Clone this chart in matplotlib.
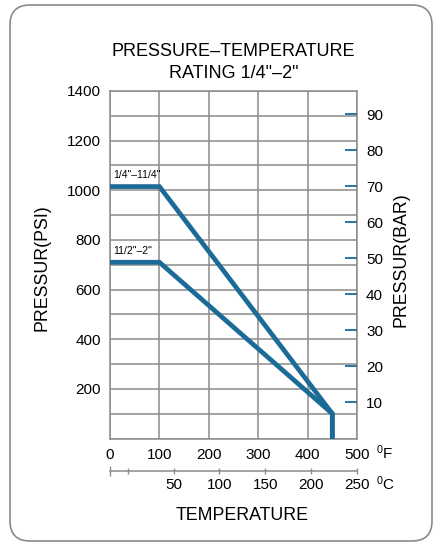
import matplotlib
matplotlib.use("Agg")
import matplotlib.pyplot as plt
from matplotlib.patches import FancyBboxPatch

# ---- data ----
temp_f = [0, 100, 450, 450]
psi_small = [1015, 1015, 100, 0]   # 1/4"-1 1/4"
psi_large = [710, 710, 100, 0]     # 1 1/2"-2"
label_small = '1/4"\u201311/4"'
label_large = '11/2"\u20132"'
f_ticks = [0, 100, 200, 300, 400, 500]
psi_ticks = [200, 400, 600, 800, 1000, 1200, 1400]
bar_ticks = [10, 20, 30, 40, 50, 60, 70, 80, 90]
c_ticks = [0, 50, 100, 150, 200, 250]
c_labels = ['', '50', '100', '150', '200', '250']
PSI_PER_BAR = 14.5038
C_AT_F0 = -19.3   # Celsius scale value drawn at 0 °F
C_AT_F500 = 250.0

plt.rcParams['font.family'] = ['Liberation Sans', 'DejaVu Sans']
plt.rcParams['mathtext.default'] = 'regular'

BLUE = '#1b6a98'
GRID = '#8c8c8c'
TICK_FS = 11

fig = plt.figure(figsize=(4.33, 5.44), dpi=100)
ax = fig.add_axes([110/433, 1-438.5/544, (357-110)/433, (438.5-91)/544])

# border
border = FancyBboxPatch((0.10, 0.03), 4.22, 5.36,
                        boxstyle="round,pad=0,rounding_size=0.2",
                        transform=fig.dpi_scale_trans, fill=False,
                        edgecolor='#8a8a8a', linewidth=1.2, zorder=0)
fig.patches.append(border)

ax.plot(temp_f, psi_small, color=BLUE, lw=3.4, solid_joinstyle='miter', zorder=3)
ax.plot(temp_f, psi_large, color=BLUE, lw=3.4, solid_joinstyle='miter', zorder=3)
ax.annotate(label_small, (temp_f[0], psi_small[0]), xytext=(2, 4.5),
            textcoords='offset points', fontsize=7.5, ha='left', va='bottom')
ax.annotate(label_large, (temp_f[0], psi_large[0]), xytext=(2, 4.5),
            textcoords='offset points', fontsize=7.5, ha='left', va='bottom')

ax.set_xlim(0, 500)
ax.set_ylim(0, 1400)
ax.set_xticks(f_ticks)
ax.set_xticks(range(0, 501, 100), minor=True)
ax.set_yticks(psi_ticks)
ax.set_yticks(range(0, 1401, 100), minor=True)
ax.grid(True, which='both', color=GRID, lw=1.1)
ax.set_axisbelow(True)
ax.tick_params(axis='both', which='both', length=0, labelsize=TICK_FS)
ax.tick_params(axis='x', pad=6.5)
ax.tick_params(axis='y', pad=6.5)
for s in ax.spines.values():
    s.set_color(GRID)
    s.set_linewidth(1.1)

# bar axis
axb = ax.twinx()
axb.set_ylim(0, 1400 / PSI_PER_BAR)
axb.set_yticks(bar_ticks)
axb.tick_params(axis='y', direction='in', length=8.5, width=1.3, color=BLUE,
                labelsize=TICK_FS, pad=6.5)
for s in axb.spines.values():
    s.set_visible(False)

# Celsius axis
k = (C_AT_F500 - C_AT_F0) / 500.0
secx = ax.secondary_xaxis(-0.0927, functions=(lambda f: C_AT_F0 + f * k,
                                             lambda c: (c - C_AT_F0) / k))
secx.set_xticks(c_ticks)
secx.set_xticklabels(c_labels)
secx.set_xticks([C_AT_F0], minor=True)
secx.tick_params(axis='x', which='major', direction='inout', length=5, width=1,
                 color=GRID, labelsize=TICK_FS, pad=3)
secx.tick_params(axis='x', which='minor', direction='inout', length=7, width=1,
                 color=GRID)
secx.spines['bottom'].set_color(GRID)
secx.spines['bottom'].set_linewidth(1.1)

fig.text(376/433, 1-459/544, '$^{0}$F', fontsize=TICK_FS, ha='left', va='baseline')
fig.text(376/433, 1-490/544, '$^{0}$C', fontsize=TICK_FS, ha='left', va='baseline')

fig.text(233.5/433, 1-55.5/544, 'PRESSURE\u2013TEMPERATURE', fontsize=13,
         ha='center', va='baseline')
fig.text(234/433, 1-78/544, 'RATING 1/4"\u20132"', fontsize=13,
         ha='center', va='baseline')
fig.text(242/433, 1-519.5/544, 'TEMPERATURE', fontsize=12.8, ha='center', va='baseline')
fig.text(42/433, 1-268/544, 'PRESSUR(PSI)', fontsize=12.8, rotation=90,
         ha='center', va='center')
fig.text(401/433, 1-260/544, 'PRESSUR(BAR)', fontsize=12.8, rotation=90,
         ha='center', va='center')

fig.savefig('out.png', dpi=100)
